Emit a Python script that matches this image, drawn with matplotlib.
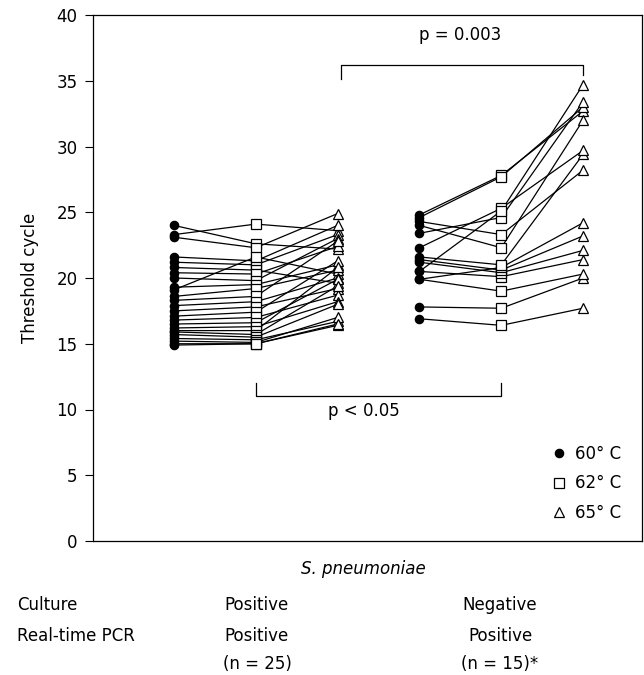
import numpy as np
import matplotlib.pyplot as plt
from matplotlib.lines import Line2D

plt.rcParams['font.family'] = ['DejaVu Sans']

# culture positive / PCR positive (n = 25): threshold cycle at 60, 62, 65 C
pos_60 = [24.0, 23.3, 23.1, 21.6, 21.2, 20.8, 20.4, 20.0, 19.3, 19.1, 18.6, 18.3, 17.9,
          17.5, 17.1, 16.8, 16.5, 16.2, 16.0, 15.9, 15.7, 15.4, 15.2, 15.0, 14.9]
pos_62 = [22.6, 24.1, 22.3, 21.3, 21.0, 20.6, 20.3, 19.8, 19.5, 21.6, 19.2, 18.6, 18.2,
          17.8, 17.4, 17.0, 16.6, 16.3, 16.0, 15.7, 15.5, 15.3, 15.1, 15.0, 15.0]
pos_65 = [22.2, 23.6, 24.9, 24.0, 23.3, 19.6, 22.4, 23.0, 21.0, 20.3, 20.6, 22.8, 20.0,
          19.2, 21.3, 18.7, 19.9, 18.2, 20.8, 19.4, 18.0, 16.7, 17.0, 16.4, 16.5]

# culture negative / PCR positive (n = 15)
neg_60 = [16.9, 17.8, 19.9, 20.5, 21.2, 21.4, 19.9, 21.6, 22.3, 24.8, 24.6, 24.3, 24.0, 23.4, 20.5]
neg_62 = [16.4, 17.7, 19.0, 20.1, 20.4, 20.6, 20.8, 21.0, 25.3, 27.8, 27.7, 23.3, 22.3, 24.6, 25.1]
neg_65 = [17.7, 20.0, 20.3, 21.4, 22.1, 23.2, 24.2, 29.4, 29.7, 32.7, 33.0, 28.2, 32.0, 33.4, 34.7]

temps = ['60° C', '62° C', '65° C']
markers = ['o', 's', '^']
sizes = [6, 7, 7.5]

fig = plt.figure(figsize=(6.44, 6.75), dpi=100)
ax = fig.add_axes([93/644, 1 - 541/675, 549/644, 526/675])

for group, x0 in [((pos_60, pos_62, pos_65), 0), ((neg_60, neg_62, neg_65), 3)]:
    xs = [x0, x0 + 1, x0 + 2]
    vals = np.array(group)
    for i in range(vals.shape[1]):
        ax.plot(xs, vals[:, i], color='black', lw=0.9, zorder=1)
    for j in range(3):
        face = 'black' if j == 0 else 'white'
        ax.plot(np.full(vals.shape[1], xs[j]), vals[j], ls='none', marker=markers[j],
                ms=sizes[j], mfc=face, mec='black', mew=0.9, zorder=3)

# significance brackets
ax.plot([2.04, 2.04, 5.0, 5.0], [35.1, 36.2, 36.2, 35.4], color='black', lw=0.9)
ax.text(3.5, 38.5, 'p = 0.003', ha='center', va='center', fontsize=12)
ax.plot([1.0, 1.0, 4.0, 4.0], [12.0, 11.0, 11.0, 12.0], color='black', lw=0.9)
ax.text(2.32, 9.9, 'p < 0.05', ha='center', va='center', fontsize=12)

ax.set_xlim(-0.99, 5.72)
ax.set_ylim(0, 40)
ax.set_xticks([])
ax.set_yticks(range(0, 41, 5))
ax.tick_params(axis='y', labelsize=12, direction='out', length=6, width=0.8, pad=5)
ax.set_ylabel('Threshold cycle', fontsize=12, labelpad=13)
for s in ax.spines.values():
    s.set_linewidth(0.9)

handles = [Line2D([], [], ls='none', marker=m, ms=sz, mfc=('black' if k == 0 else 'white'),
                  mec='black', mew=0.9) for k, (m, sz) in enumerate(zip(markers, sizes))]
ax.legend(handles, temps, loc='lower right', frameon=False, fontsize=12,
          handlelength=0.8, handletextpad=0.6, labelspacing=0.7,
          borderpad=0, borderaxespad=0, bbox_to_anchor=(0.963, 0.036))

def px(x, y):
    return x / 644, 1 - y / 675

fig.text(*px(363, 569), 'S. pneumoniae', style='italic', ha='center', va='center', fontsize=12)
rows = [('Culture', 'Positive', 'Negative', 605),
        ('Real-time PCR', 'Positive', 'Positive', 636),
        ('', '(n = 25)', '(n = 15)*', 664)]
for label, a, b, y in rows:
    fig.text(*px(17, y), label, ha='left', va='center', fontsize=12)
    fig.text(*px(257, y), a, ha='center', va='center', fontsize=12)
    fig.text(*px(500, y), b, ha='center', va='center', fontsize=12)

fig.savefig('out.png', dpi=100)
